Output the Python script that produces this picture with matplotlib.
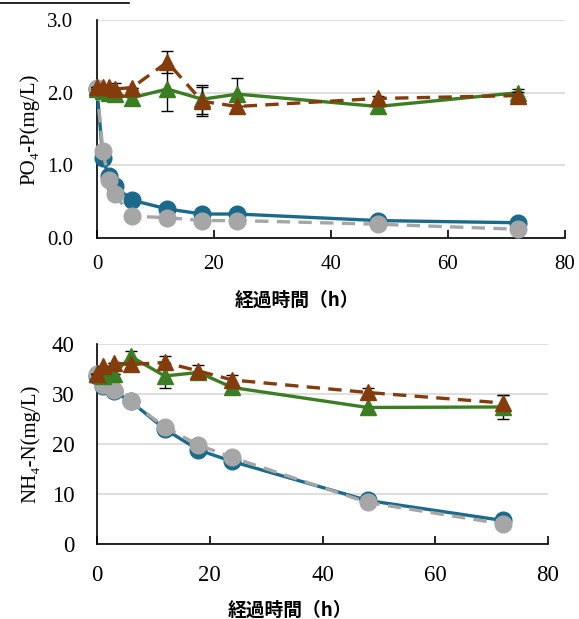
import numpy as np
import matplotlib
matplotlib.use("Agg")
import matplotlib.pyplot as plt
from matplotlib.lines import Line2D

plt.rcParams['font.family'] = ['Liberation Serif', 'Noto Sans CJK JP', 'DejaVu Sans']

# PO4-P (上段)
t_po4 = [0, 1, 2, 3, 6, 12, 18, 24, 48, 72]
po4_blue = [2.05, 1.10, 0.85, 0.72, 0.52, 0.40, 0.33, 0.33, 0.24, 0.21]
po4_gray = [2.07, 1.20, 0.80, 0.60, 0.30, 0.28, 0.24, 0.24, 0.19, 0.12]
po4_green = [2.05, 2.02, 2.00, 1.98, 1.93, 2.05, 1.91, 1.98, 1.81, 2.00]
po4_green_err = [0, 0, 0, 0, 0.10, 0.30, 0.20, 0.22, 0, 0.05]
po4_brown = [2.08, 2.08, 2.08, 2.05, 2.07, 2.42, 1.88, 1.81, 1.92, 1.96]
po4_brown_err = [0, 0, 0, 0.08, 0, 0.15, 0.20, 0, 0.03, 0.05]

# NH4-N (下段)
t_nh4 = [0, 1, 3, 6, 12, 18, 24, 48, 72]
nh4_blue = [33.5, 31.5, 30.5, 28.5, 23.0, 18.8, 16.5, 8.7, 4.7]
nh4_gray = [34.0, 31.8, 30.8, 28.5, 23.4, 19.8, 17.3, 8.3, 4.0]
nh4_green = [34.0, 33.5, 34.0, 37.5, 33.6, 34.3, 31.3, 27.3, 27.4]
nh4_green_err = [0, 0, 0, 1.0, 2.4, 0, 0, 0, 2.4]
nh4_brown = [34.0, 35.5, 36.2, 35.9, 36.3, 34.6, 32.8, 30.3, 28.2]
nh4_brown_err = [0, 0, 0, 0, 1.2, 1.2, 1.0, 0.8, 1.5]

c_blue = '#1b6a8c'
c_gray = '#a6a6a6'
c_green = '#3b7d23'
c_brown = '#843c0c'
grid_c = '#d9d9d9'
jp_font = ['Noto Sans CJK JP', 'DejaVu Sans']

fig = plt.figure(figsize=(5.79, 6.19), dpi=100)
ax1 = fig.add_axes([0.1675, 0.6155, 0.8083, 0.3522])
ax2 = fig.add_axes([0.1675, 0.1212, 0.7790, 0.3231])


def draw(ax, t, blue, gray, green, green_err, brown, brown_err, fs, xpad, ypad):
    ax.plot(t, blue, '-', color=c_blue, lw=2.4, marker='o', ms=12, zorder=3)
    ax.plot(t, gray, '--', color=c_gray, lw=2.4, marker='o', ms=12,
            dashes=(4, 2.5), zorder=4)
    ax.errorbar(t, green, yerr=green_err, fmt='-', color=c_green, lw=2.4,
                marker='^', ms=12, ecolor='black', elinewidth=1, capsize=4,
                zorder=5)
    ax.errorbar(t, brown, yerr=brown_err, fmt='--', color=c_brown, lw=2.4,
                marker='^', ms=12, ecolor='black', elinewidth=1, capsize=4,
                dashes=(4, 2.5), zorder=6)
    for s in ['top', 'right']:
        ax.spines[s].set_visible(False)
    ax.spines['left'].set_linewidth(1.2)
    ax.spines['bottom'].set_linewidth(1.2)
    ax.yaxis.grid(True, color=grid_c, lw=1.2, zorder=0)
    ax.set_axisbelow(True)
    ax.tick_params(axis='x', direction='in', length=6, width=1.2, pad=xpad,
                   labelsize=fs)
    ax.tick_params(axis='y', length=0, pad=ypad, labelsize=fs)
    ax.set_xlim(0, 80)
    ax.set_xticks([0, 20, 40, 60, 80])
    for ln in ax.lines:
        ln.set_clip_on(False)


draw(ax1, t_po4, po4_blue, po4_gray, po4_green, po4_green_err,
     po4_brown, po4_brown_err, 15, 12, 17)
ax1.set_ylim(0, 3.0)
ax1.set_yticks([0, 1, 2, 3])
ax1.set_yticklabels(['0.0', '1.0', '2.0', '3.0'])
ax1.set_ylabel('PO₄-P(mg/L)', fontsize=15, labelpad=6)
ax1.set_xlabel('経過時間（h）', fontsize=13.5, fontweight='bold',
               family=jp_font, va='center')
ax1.xaxis.set_label_coords(0.427, -0.284)

draw(ax2, t_nh4, nh4_blue, nh4_gray, nh4_green, nh4_green_err,
     nh4_brown, nh4_brown_err, 16.5, 15, 16)
ax2.set_ylim(0, 40)
ax2.set_yticks([0, 10, 20, 30, 40])
ax2.set_ylabel('NH₄-N(mg/L)', fontsize=15, labelpad=8)
ax2.set_xlabel('経過時間（h）', fontsize=13.5, fontweight='bold',
               family=jp_font, va='center')
ax2.xaxis.set_label_coords(0.428, -0.33)

# 上端の切れた下線
fig.add_artist(Line2D([0, 0.222], [0.9955, 0.9955], color='black', lw=1.2))

fig.savefig('out.png', dpi=100)
